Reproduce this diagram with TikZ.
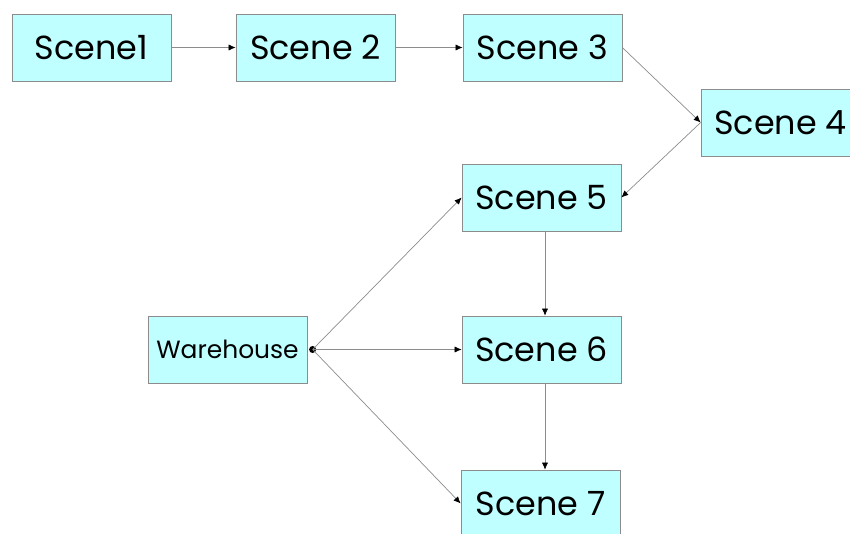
\documentclass[tikz,border=0pt]{standalone}
\usepackage{fontspec}
\setmainfont{Poppins}
\usetikzlibrary{arrows.meta}

\definecolor{scenefill}{HTML}{C0FFFF}
\definecolor{sceneline}{HTML}{8C8C8C}

\begin{document}
\begin{tikzpicture}[x=0.02cm, y=-0.02cm,
    scene/.style={draw=sceneline, fill=scenefill, minimum width=3.18cm,
                  minimum height=1.34cm, inner sep=0pt, font=\fontsize{19}{22}\selectfont},
    flow/.style={draw=black!45, thin, -{Latex[length=4pt,width=3.5pt,color=black]}}]
  \useasboundingbox (0,0) rectangle (850,534);
  \path node (s1) at (91.5,47.5)  [scene] {Scene1}
        node (s2) at (315.5,47.5) [scene] {Scene 2}
        node (s3) at (542.5,47.5) [scene] {Scene 3}
        node (s4) at (780.5,122.5) [scene] {Scene 4}
        node (s5) at (541.5,197.5) [scene] {Scene 5}
        node (s6) at (541.5,349.5) [scene] {Scene 6}
        node (s7) at (540.5,503.5) [scene] {Scene 7}
        node (wh) at (227.5,349.5) [scene, font=\fontsize{14.2}{17}\selectfont] {Warehouse};
  % little knob where the warehouse lines leave
  \coordinate (knob) at ([xshift=3pt]wh.east);
  \fill (knob) circle (2pt);
  \draw[flow] (s1) -- (s2);
  \draw[flow] (s2) -- (s3);
  \draw[flow] (s3.east) -- (s4.west);
  \draw[flow] (s4.west) -- (s5.east);
  \draw[flow] ([xshift=2pt]s5.south) -- ([xshift=2pt]s6.north);
  \draw[flow] ([xshift=2pt]s6.south) -- ([xshift=2pt]s6.south |- s7.north);
  \draw[flow] (knob) -- (s5.west);
  \draw[flow] (knob) -- (s6.west);
  \draw[flow] (knob) -- (s7.west);
\end{tikzpicture}
\end{document}
